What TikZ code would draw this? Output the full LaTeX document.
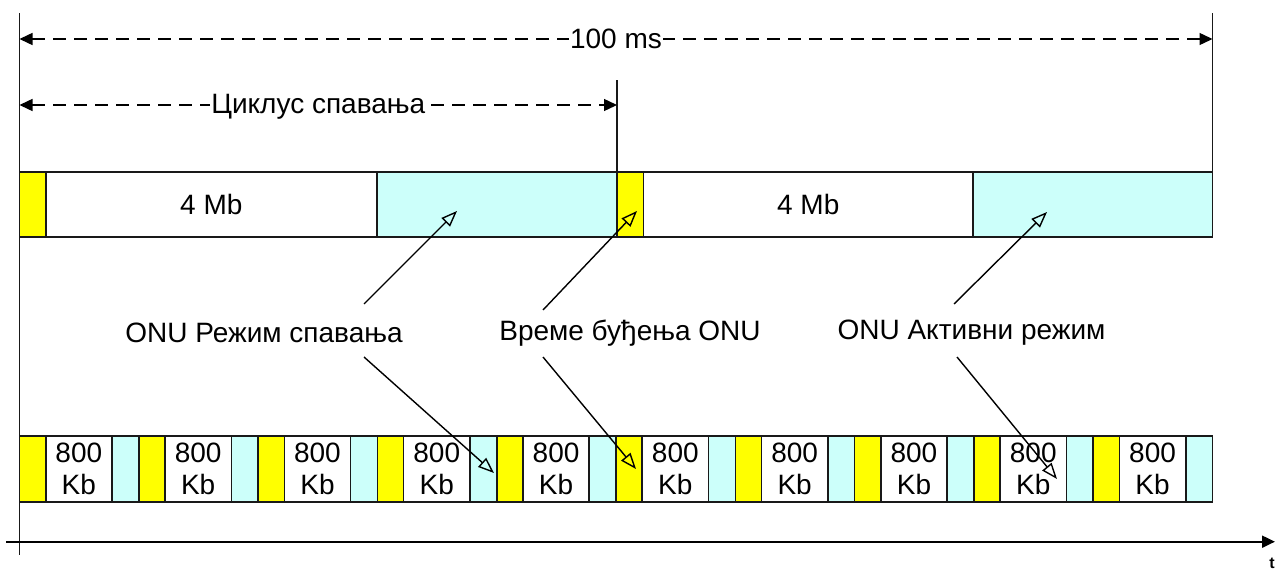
\documentclass[tikz,border=0pt]{standalone}
\usepackage{fontspec}
\setmainfont{Liberation Sans}
\usetikzlibrary{arrows.meta}
\definecolor{sleepcyan}{RGB}{204,255,250}
\definecolor{wakeyellow}{RGB}{255,255,0}
\tikzset{
  cell/.style={draw=black!90, line width=0.8pt, inner sep=0pt, outer sep=0pt, anchor=north west},
  topcell/.style={cell, minimum height=32.5pt},
  botcell/.style={cell, minimum height=33pt, align=center},
  dimline/.style={line width=0.7pt, dash pattern=on 6.5pt off 4pt, {Triangle[length=6.5pt,width=6pt]}-{Triangle[length=6.5pt,width=6pt]}},
  dimlbl/.style={fill=white, inner sep=0.6pt},
  ptr/.style={line width=0.7pt, -{Triangle[open,length=8pt,width=6pt]}},
  guide/.style={line width=0.75pt, black!90},
  axis/.style={line width=1pt, -{Triangle[length=6.5pt,width=6pt]}},
  lbl/.style={inner sep=1pt}
}
\begin{document}
\begin{tikzpicture}[x=0.5pt,y=-0.5pt, font=\fontsize{14pt}{16pt}\selectfont]
\useasboundingbox (0,0) rectangle (1276,573);

% top bar
\node[topcell, fill=wakeyellow, minimum width=13.1pt] (ty1) at (19.5,172) {};
\node[topcell, fill=white, minimum width=165.65pt] (tw1) at (45.7,172) {4 Mb};
\node[topcell, fill=sleepcyan, minimum width=120pt] (tc1) at (377,172) {};
\node[topcell, fill=wakeyellow, minimum width=13.25pt] (ty2) at (617,172) {};
\node[topcell, fill=white, minimum width=164.75pt] (tw2) at (643.5,172) {4 Mb};
\node[topcell, fill=sleepcyan, minimum width=119.75pt] (tc2) at (973,172) {};

% bottom bar
\foreach \k in {0,...,9} {
  \pgfmathsetmacro\xo{19.5+119.3*\k}
  \node[botcell, fill=wakeyellow, minimum width=13.1pt] (by\k) at (\xo,436) {};
  \node[botcell, fill=white, minimum width=33.15pt] (bw\k) at (\xo+26.2,436) {800\\Kb};
  \node[botcell, fill=sleepcyan, minimum width=13.4pt] (bc\k) at (\xo+92.5,436) {};
}

% guide lines
\coordinate (gLt) at (19.5,13);
\coordinate (gLb) at (19.5,555);
\coordinate (gRt) at (1212.5,13);
\coordinate (gMt) at (617,80);
\draw[guide] (gLt) -- (gLb);
\draw[guide] (gRt) -- (tc2.north east);
\draw[guide] (gMt) -- (ty2.north west);

% dimension arrows
\coordinate (d1L) at (19.5,39);
\coordinate (d1R) at (1212.5,39);
\coordinate (d2L) at (19.5,105);
\coordinate (d2R) at (617,105);
\draw[dimline] (d1L) -- node[dimlbl] (l100) {100 ms} (d1R);
\draw[dimline] (d2L) -- node[dimlbl, yshift=-1pt] (lcyc) {Циклус спавања} (d2R);

% labels
\node[lbl] (lsleep) at (264,333) {ONU Режим спавања};
\node[lbl] (lwake) at (630,333) {Време буђења ONU};
\node[lbl] (lact) at (971.5,333) {ONU Активни режим};

% pointer arrows
\coordinate (s1u) at (364,304);
\coordinate (t1u) at (457,211);
\coordinate (s2u) at (543,310);
\coordinate (t2u) at (637,211);
\coordinate (s3u) at (954,304);
\coordinate (t3u) at (1047,212);
\coordinate (s1d) at (364,357);
\coordinate (t1d) at (494,473);
\coordinate (s2d) at (543,357);
\coordinate (t2d) at (636,469);
\coordinate (s3d) at (957,357);
\coordinate (t3d) at (1057,479);
\draw[ptr] (s1u) -- (t1u);
\draw[ptr] (s2u) -- (t2u);
\draw[ptr] (s3u) -- (t3u);
\draw[ptr] (s1d) -- (t1d);
\draw[ptr] (s2d) -- (t2d);
\draw[ptr] (s3d) -- (t3d);

% time axis
\coordinate (ax0) at (6,541.7);
\coordinate (ax1) at (1275,541.7);
\draw[axis] (ax0) -- (ax1);
\node[font=\bfseries\fontsize{8pt}{9pt}\selectfont, inner sep=0pt] (tlbl) at (1272,563) {t};
\end{tikzpicture}
\end{document}
